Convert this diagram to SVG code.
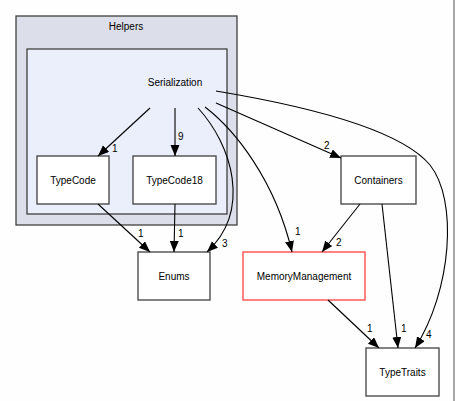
<svg xmlns="http://www.w3.org/2000/svg" width="455" height="401" viewBox="0 0 455 401">
<style>
text{font-family:"Liberation Sans",Arial,sans-serif;font-size:10px;fill:#000}
.c{text-anchor:middle}
.box{fill:#fff;stroke:#404040;stroke-width:1.3}
.e{fill:none;stroke:#000;stroke-width:1.1}
</style>
<defs>
<marker id="a" markerUnits="userSpaceOnUse" markerWidth="12" markerHeight="10" refX="11" refY="4.5" orient="auto"><path d="M0,0 L11,4.5 L0,9 z" fill="#000"/></marker>
</defs>
<rect x="0" y="0" width="455" height="401" fill="#fdfefd"/>
<line x1="454" y1="0" x2="454" y2="401" stroke="#505050" stroke-width="1"/>
<g id="cluster_Helpers">
<rect x="16" y="16" width="221" height="209" fill="#dcdeea" stroke="#404040" stroke-width="1.3"/>
<text class="c" x="126" y="30">Helpers</text>
</g>
<g id="cluster_Serialization">
<rect x="27" y="49" width="200" height="165" fill="#ebeefb" stroke="#404040" stroke-width="1.3"/>
<text class="c" x="175" y="86">Serialization</text>
</g>
<g id="node_TypeCode"><rect class="box" x="37" y="156" width="72" height="48"/><text class="c" x="73" y="183.5">TypeCode</text></g>
<g id="node_TypeCode18"><rect class="box" x="133" y="156" width="83" height="48"/><text class="c" x="174.5" y="183.5">TypeCode18</text></g>
<g id="node_Containers"><rect class="box" x="341" y="156" width="75" height="48"/><text class="c" x="378.5" y="183.5">Containers</text></g>
<g id="node_Enums"><rect class="box" x="138" y="252" width="72" height="48"/><text class="c" x="174" y="279.5">Enums</text></g>
<g id="node_MemoryManagement"><rect x="243" y="252" width="122" height="48" fill="#fff" stroke="#ff4040" stroke-width="1.3"/><text class="c" x="304" y="279.5">MemoryManagement</text></g>
<g id="node_TypeTraits"><rect class="box" x="366" y="348" width="73" height="48"/><text class="c" x="402.5" y="375.5">TypeTraits</text></g>
<g id="edges">
<path class="e" marker-end="url(#a)" d="M150,108 L98,156"/>
<text x="112" y="152">1</text>
<path class="e" marker-end="url(#a)" d="M175,108 L175,156"/>
<text x="178" y="140">9</text>
<path class="e" marker-end="url(#a)" d="M198,108 C232,145 252,210 207,252"/>
<text x="222" y="247">3</text>
<path class="e" marker-end="url(#a)" d="M205,107 C235,130 275,180 292,252"/>
<text x="295" y="235">1</text>
<path class="e" marker-end="url(#a)" d="M216,103 L341,158"/>
<text x="324" y="149">2</text>
<path class="e" marker-end="url(#a)" d="M216,91 C330,110 405,135 430,165 C458,200 452,290 415,348"/>
<text x="426" y="338">4</text>
<path class="e" marker-end="url(#a)" d="M360,204 L322,252"/>
<text x="336" y="246">2</text>
<path class="e" marker-end="url(#a)" d="M382,204 L398,348"/>
<text x="401" y="332">1</text>
<path class="e" marker-end="url(#a)" d="M328,300 L379,348"/>
<text x="367" y="332">1</text>
<path class="e" marker-end="url(#a)" d="M98,204 L150,252"/>
<text x="138" y="237">1</text>
<path class="e" marker-end="url(#a)" d="M175,204 L174,252"/>
<text x="178" y="237">1</text>
</g>
</svg>
